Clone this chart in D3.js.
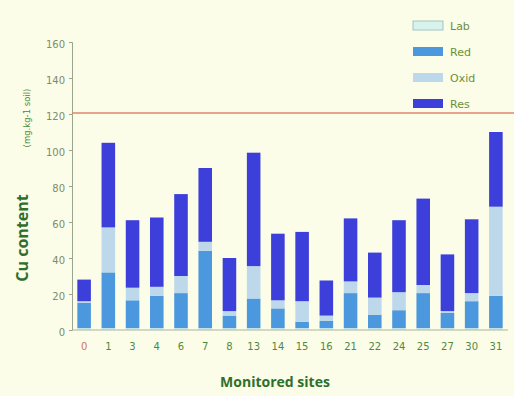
<!DOCTYPE html>
<html>
<head>
<meta charset="utf-8">
<script src="https://cdn.jsdelivr.net/npm/d3@7/dist/d3.min.js"></script>
<style>
  html, body { margin: 0; padding: 0; background: #fbfde8; }
  svg { display: block; }
</style>
</head>
<body>
<svg id="chart" width="514" height="396"></svg>
<script>
// Monitored sites and Cu fractions (mg/kg soil), stacked bottom to top
const sites = ["0", "1", "3", "4", "6", "7", "8", "13", "14", "15", "16", "21", "22", "24", "25", "27", "30", "31"];
const lab  = [1, 1, 1, 1, 1, 1, 1, 1, 1, 1, 1, 1, 1, 1, 1, 1, 1, 1];
const red  = [14, 31, 15.5, 18, 19.5, 43, 7, 16.5, 11, 3.5, 4, 19.5, 7.5, 10, 19.5, 8.5, 15, 18];
const oxid = [1, 25, 7, 5, 9.5, 5, 2.5, 18, 4.5, 11.5, 3, 6.5, 9.5, 10, 4.5, 1, 4.5, 49.5];
const res  = [12, 47, 37.5, 38.5, 45.5, 41, 29.5, 63, 37, 38.5, 19.5, 35, 25, 40, 48, 31.5, 41, 41.5];
const fractions = ["Lab", "Red", "Oxid", "Res"];
const yTicks = [0, 20, 40, 60, 80, 100, 120, 140, 160];
const limitValue = 120;

const colors = { Lab: "#d8f3ee", Red: "#4b98de", Oxid: "#bdd7eb", Res: "#3c3fd9" };

const svg = d3.select("#chart");
const plotLeft = 72, plotRight = 508, plotTop = 42, plotBottom = 330;

const rows = sites.map((s, i) => ({ site: s, Lab: lab[i], Red: red[i], Oxid: oxid[i], Res: res[i] }));
const stacked = d3.stack().keys(fractions)(rows);

const x = d3.scaleBand().domain(sites).range([plotLeft, plotRight]).paddingInner(0.44).paddingOuter(0.22);
const y = d3.scaleLinear().domain([0, 160]).range([plotBottom, plotTop]);

// stacked bars
svg.append("g").selectAll("g")
  .data(stacked)
  .join("g")
  .attr("fill", d => colors[d.key])
  .selectAll("rect")
  .data(d => d)
  .join("rect")
  .attr("x", d => x(d.data.site))
  .attr("width", x.bandwidth())
  .attr("y", d => y(d[1]))
  .attr("height", d => y(d[0]) - y(d[1]));

// y axis
const yAxis = svg.append("g")
  .attr("transform", `translate(${plotLeft},0)`)
  .call(d3.axisLeft(y).tickValues(yTicks).tickSize(3).tickPadding(4));
yAxis.select(".domain").attr("stroke", "#9aa590");
yAxis.selectAll(".tick line").attr("stroke", "#9aa590");
yAxis.selectAll(".tick text")
  .attr("fill", "#7d8b70")
  .attr("font-family", "DejaVu Sans, sans-serif")
  .attr("font-size", 10)
  .attr("dy", "0.55em");

// x axis
const xAxis = svg.append("g")
  .attr("transform", `translate(0,${plotBottom})`)
  .call(d3.axisBottom(x).tickSize(0).tickPadding(13));
xAxis.select(".domain").attr("stroke", "#a9b39b").attr("d", `M${plotLeft},0H${plotRight}`);
xAxis.selectAll(".tick text")
  .attr("fill", d => d === "0" ? "#d2755c" : "#4f8a3c")
  .attr("font-family", "DejaVu Sans, sans-serif")
  .attr("font-size", 10);

// reference limit
svg.append("line")
  .attr("x1", plotLeft).attr("x2", 514)
  .attr("y1", y(limitValue) - 1).attr("y2", y(limitValue) - 1)
  .attr("stroke", "#e0866f").attr("stroke-width", 1.5);

// legend
const legend = svg.append("g");
fractions.forEach((k, i) => {
  const g = legend.append("g").attr("transform", `translate(413,${21 + i * 26})`);
  g.append("rect").attr("width", 30).attr("height", 9)
    .attr("fill", colors[k]).attr("stroke", k === "Lab" ? "#9fc7c0" : "none");
  g.append("text").attr("x", 37).attr("y", 9)
    .attr("fill", "#6f8f35")
    .attr("font-family", "DejaVu Sans, sans-serif")
    .attr("font-size", 11)
    .text(k);
});

// axis titles
svg.append("text")
  .attr("x", 275).attr("y", 387)
  .attr("text-anchor", "middle")
  .attr("fill", "#2f6f2c")
  .attr("font-family", "Open Sans, sans-serif")
  .attr("font-weight", "bold")
  .attr("font-size", 14)
  .text("Monitored sites");

svg.append("text")
  .attr("transform", "translate(28,238) rotate(-90)")
  .attr("text-anchor", "middle")
  .attr("fill", "#2f6f2c")
  .attr("font-family", "Open Sans, sans-serif")
  .attr("font-weight", "bold")
  .attr("font-size", 16)
  .text("Cu content");

svg.append("text")
  .attr("transform", "translate(30,118) rotate(-90)")
  .attr("text-anchor", "middle")
  .attr("fill", "#4a8a3a")
  .attr("font-family", "DejaVu Sans, sans-serif")
  .attr("font-size", 8.5)
  .text("(mg.kg-1 soil)");
</script>
</body>
</html>
